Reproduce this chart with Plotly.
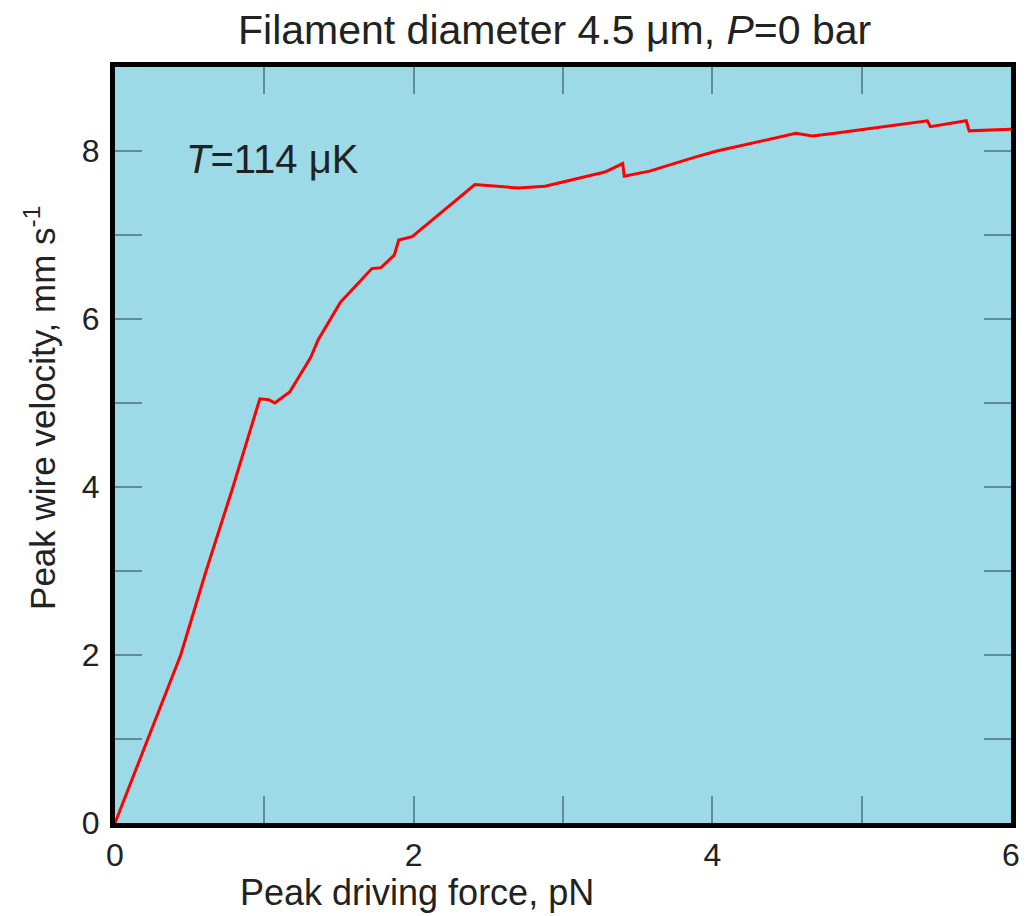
import plotly.graph_objects as go

force_pN = [0, 0.11, 0.22, 0.33, 0.44, 0.61, 0.79, 0.97, 1.03, 1.07, 1.17, 1.31, 1.36, 1.51,
            1.72, 1.78, 1.87, 1.89, 1.90, 1.99, 2.23, 2.41, 2.70, 2.88, 3.28, 3.40, 3.41, 3.58,
            3.89, 4.03, 4.56, 4.67, 4.82, 5.44, 5.46, 5.70, 5.72, 6.0]
velocity = [0, 0.5, 1.0, 1.49, 2.0, 3.0, 4.0, 5.05, 5.04, 5.0, 5.13, 5.54, 5.75, 6.20,
            6.60, 6.61, 6.76, 6.88, 6.94, 6.98, 7.33, 7.60, 7.56, 7.58, 7.75, 7.85, 7.70, 7.76,
            7.93, 8.0, 8.21, 8.18, 8.21, 8.36, 8.29, 8.36, 8.24, 8.26]

x_tickvals = [0, 1, 2, 3, 4, 5, 6]
x_ticktext = ["0", "", "2", "", "4", "", "6"]
y_tickvals = [0, 1, 2, 3, 4, 5, 6, 7, 8]
y_ticktext = ["0", "", "2", "", "4", "", "6", "", "8"]

FONT = "Liberation Sans, Arial, sans-serif"
TXT = "#222222"
TICKC = "#5f8c97"

fig = go.Figure()
fig.add_trace(go.Scatter(x=force_pN, y=velocity, mode="lines",
                         line=dict(color="#ff0000", width=3, shape="linear"), showlegend=False))

axis_common = dict(
    showgrid=False, zeroline=False,
    showline=True, linecolor="black", linewidth=5, mirror="ticks",
    ticks="inside", ticklen=27, tickwidth=1.5, tickcolor=TICKC,
    tickfont=dict(family=FONT, size=32, color=TXT),
)

fig.update_xaxes(range=[0, 6], tickvals=x_tickvals, ticktext=x_ticktext, **axis_common)
fig.update_yaxes(range=[0, 9], tickvals=y_tickvals, ticktext=y_ticktext,
                 ticklabelstandoff=4, **axis_common)

fig.update_layout(
    width=1028, height=916,
    margin=dict(l=115, r=8, t=67, b=93),
    paper_bgcolor="white", plot_bgcolor="#9bdae6",
    font=dict(family=FONT, color=TXT),
    annotations=[
        dict(text="Filament diameter 4.5 \u03bcm, <i>P</i>=0 bar", xref="paper", yref="paper",
             x=0.49, y=1.0, yshift=37, xanchor="center", yanchor="middle", showarrow=False,
             font=dict(family=FONT, size=41, color=TXT)),
        dict(text="Peak driving force, pN", xref="paper", yref="paper",
             x=0.337, y=0, yshift=-69, xanchor="center", yanchor="middle", showarrow=False,
             font=dict(family=FONT, size=36, color=TXT)),
        dict(text="Peak wire velocity, mm s<sup>-1</sup>", xref="paper", yref="paper",
             x=0, xshift=-75, y=0.549, xanchor="center", yanchor="middle", textangle=-90,
             showarrow=False, font=dict(family=FONT, size=35, color=TXT)),
        dict(text="<i>T</i>=114 \u03bcK", xref="x", yref="y", x=0.46, y=7.9,
             xanchor="left", yanchor="middle", showarrow=False,
             font=dict(family=FONT, size=40, color=TXT)),
    ],
)

fig.write_html("out.html")
